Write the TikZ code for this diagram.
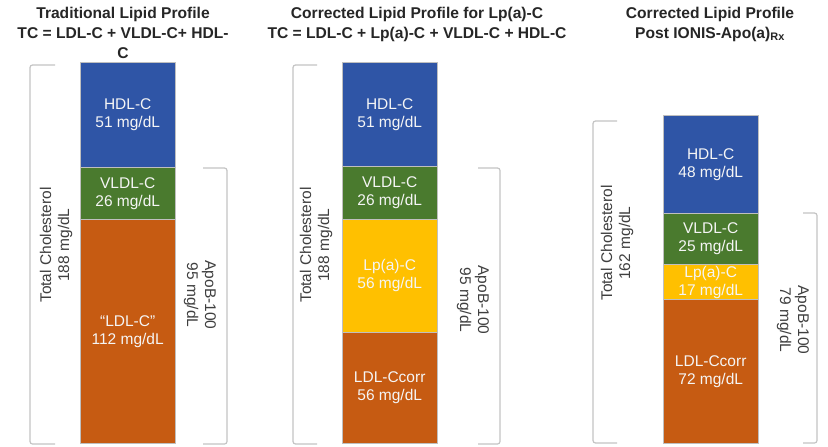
\documentclass[tikz,border=0pt]{standalone}
\usepackage{fontspec}
\setmainfont{Liberation Sans}
\definecolor{hdl}{HTML}{2F55A6}
\definecolor{vldl}{HTML}{4A7A2E}
\definecolor{ldl}{HTML}{C65B12}
\definecolor{lpa}{HTML}{FFC000}
\definecolor{brk}{HTML}{C4C4C4}
\definecolor{lbl}{HTML}{3F3F3F}
\begin{document}
\begin{tikzpicture}[x=1pt,y=-1pt,
  seg/.style={rectangle, inner sep=0pt, minimum width=95pt, anchor=north west, draw=black!25, line width=0.4pt},
  segtext/.style={text=white!96!black, align=center, inner sep=0pt, font=\fontsize{15.5}{18}\selectfont},
  side/.style={text=lbl, align=center, inner sep=0pt, font=\fontsize{15.5}{18}\selectfont},
  title/.style={text=black!85, align=center, inner sep=0pt, font=\bfseries\fontsize{15.6}{20}\selectfont},
  bracket/.style={draw=brk, line width=1.2pt, rounded corners=2.5pt}]
\useasboundingbox[fill=white] (0,0) rectangle (828,447);

% titles
\node[title, anchor=north] (ti1) at (123,6.5) {Traditional Lipid Profile\\TC = LDL-C + VLDL-C+ HDL-\\C};
\node[title, anchor=north] (ti2) at (417,6.5) {Corrected Lipid Profile for Lp(a)-C\\TC = LDL-C + Lp(a)-C + VLDL-C + HDL-C};
\node[title, anchor=north] (ti3) at (710,6.5) {Corrected Lipid Profile\\Post IONIS-Apo(a)\textsubscript{Rx}};

% column 1
\node[seg, fill=hdl,  minimum height=105pt] (a1) at (80,62) {};
\node[seg, fill=vldl, minimum height=52pt]  (a2) at (80,167) {};
\node[seg, fill=ldl,  minimum height=224pt] (a3) at (80,219) {};
\node[segtext] (ta1) at (a1.center) {HDL-C\\51 mg/dL};
\node[segtext] (ta2) at (a2.center) {VLDL-C\\26 mg/dL};
\node[segtext] (ta3) at (a3.center) {``LDL-C''\\112 mg/dL};

% column 2
\node[seg, fill=hdl,  minimum height=104pt] (b1) at (342,62) {};
\node[seg, fill=vldl, minimum height=53pt]  (b2) at (342,166) {};
\node[seg, fill=lpa,  minimum height=113pt] (b3) at (342,219) {};
\node[seg, fill=ldl,  minimum height=111pt] (b4) at (342,332) {};
\node[segtext] (tb1) at (b1.center) {HDL-C\\51 mg/dL};
\node[segtext] (tb2) at (b2.center) {VLDL-C\\26 mg/dL};
\node[segtext] (tb3) at (b3.center) {Lp(a)-C\\56 mg/dL};
\node[segtext] (tb4) at (b4.center) {LDL-Ccorr\\56 mg/dL};

% column 3
\node[seg, fill=hdl,  minimum height=98pt]  (c1) at (663,115) {};
\node[seg, fill=vldl, minimum height=51pt]  (c2) at (663,213) {};
\node[seg, fill=lpa,  minimum height=35pt]  (c3) at (663,264) {};
\node[seg, fill=ldl,  minimum height=144pt] (c4) at (663,299) {};
\node[segtext] (tc1) at (c1.center) {HDL-C\\48 mg/dL};
\node[segtext] (tc2) at (c2.center) {VLDL-C\\25 mg/dL};
\node[segtext] (tc3) at ([yshift=-1pt]c3.center) {Lp(a)-C\\17 mg/dL};
\node[segtext] (tc4) at (c4.center) {LDL-Ccorr\\72 mg/dL};

% brackets
\draw[bracket] (55,65) -- (30,65) -- (30,444) -- (55,444);
\draw[bracket] (203,168) -- (227,168) -- (227,444) -- (203,444);
\draw[bracket] (317,65) -- (293,65) -- (293,444) -- (317,444);
\draw[bracket] (478,168) -- (500,168) -- (500,444) -- (478,444);
\draw[bracket] (617,121) -- (593,121) -- (593,443) -- (617,443);
\draw[bracket] (803,213) -- (817,213) -- (817,443) -- (803,443);

% side labels
\node[side, rotate=90]  (sa1) at (56,245)  {Total Cholesterol\\188 mg/dL};
\node[side, rotate=-90] (sa2) at (200,295) {ApoB-100\\95 mg/dL};
\node[side, rotate=90]  (sb1) at (316,245) {Total Cholesterol\\188 mg/dL};
\node[side, rotate=-90] (sb2) at (473,300) {ApoB-100\\95 mg/dL};
\node[side, rotate=90]  (sc1) at (617,243) {Total Cholesterol\\162 mg/dL};
\node[side, rotate=-90] (sc2) at (793,320) {ApoB-100\\79 mg/dL};
\end{tikzpicture}
\end{document}
